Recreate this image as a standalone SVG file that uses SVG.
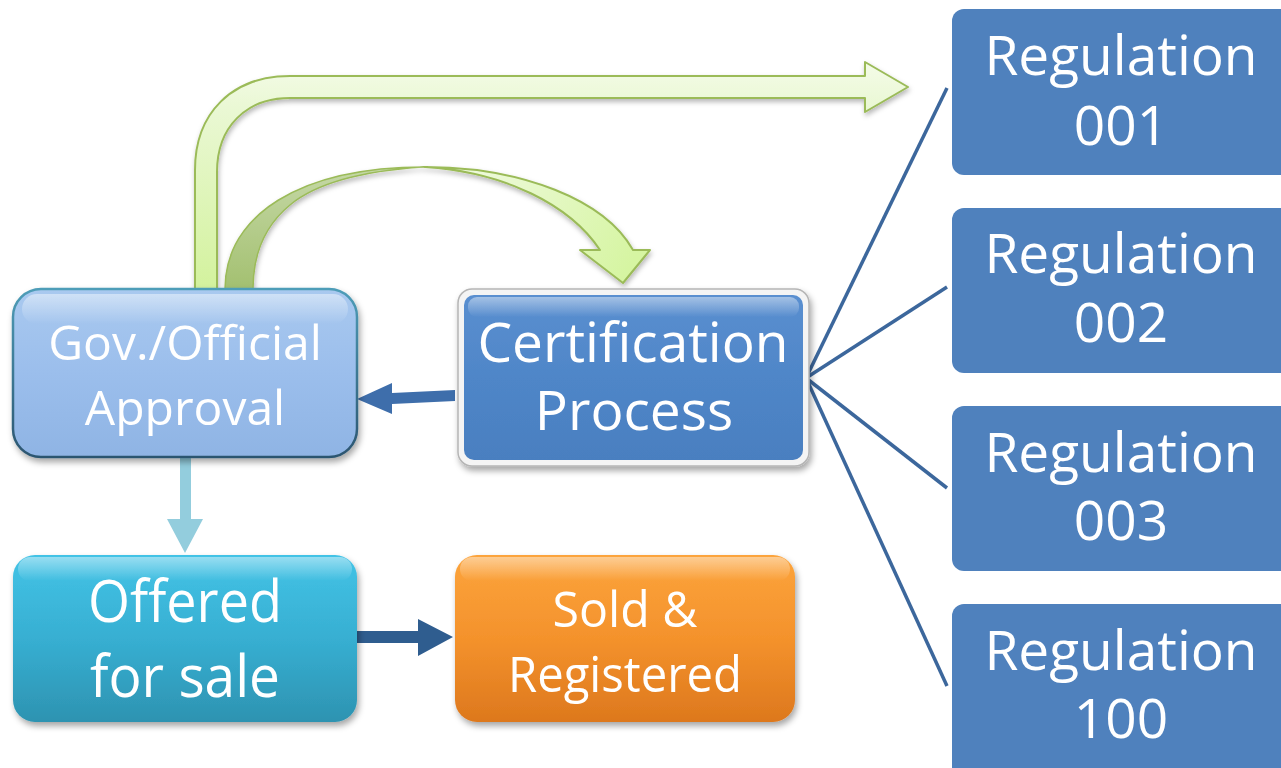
<svg xmlns="http://www.w3.org/2000/svg" width="1281" height="768" viewBox="0 0 1281 768">
  <defs>
    <style>
      .lbl { font-family: "Open Sans", "Liberation Sans", sans-serif; fill: #ffffff; text-anchor: middle; }
      .reg { fill: #4F81BD; }
      .spoke { stroke: #3C679C; stroke-width: 3.5; fill: none; }
    </style>
    <filter id="shadow" x="-10%" y="-10%" width="125%" height="130%">
      <feDropShadow dx="2" dy="4" stdDeviation="3" flood-color="#000" flood-opacity="0.35"/>
    </filter>
    <filter id="softShadow" x="-10%" y="-20%" width="125%" height="150%">
      <feDropShadow dx="1" dy="3" stdDeviation="2.5" flood-color="#000" flood-opacity="0.28"/>
    </filter>
    <linearGradient id="govFill" x1="0" y1="0" x2="0" y2="1">
      <stop offset="0" stop-color="#A9C9EF"/>
      <stop offset="0.5" stop-color="#9BBEEC"/>
      <stop offset="1" stop-color="#8FB4E4"/>
    </linearGradient>
    <linearGradient id="govEdge" x1="0" y1="0" x2="0" y2="1">
      <stop offset="0" stop-color="#4E9DB8"/>
      <stop offset="1" stop-color="#2C5570"/>
    </linearGradient>
    <linearGradient id="certFill" x1="0" y1="0" x2="0" y2="1">
      <stop offset="0" stop-color="#5A8FD0"/>
      <stop offset="0.5" stop-color="#4F86C8"/>
      <stop offset="1" stop-color="#4A7FC0"/>
    </linearGradient>
    <linearGradient id="offerFill" x1="0" y1="0" x2="0" y2="1">
      <stop offset="0" stop-color="#43C3E6"/>
      <stop offset="0.5" stop-color="#37AFD2"/>
      <stop offset="1" stop-color="#2D93B1"/>
    </linearGradient>
    <linearGradient id="soldFill" x1="0" y1="0" x2="0" y2="1">
      <stop offset="0" stop-color="#FCA43C"/>
      <stop offset="0.5" stop-color="#F4922C"/>
      <stop offset="1" stop-color="#DD781D"/>
    </linearGradient>
    <linearGradient id="gloss" x1="0" y1="0" x2="0" y2="1">
      <stop offset="0" stop-color="#ffffff" stop-opacity="0.45"/>
      <stop offset="1" stop-color="#ffffff" stop-opacity="0"/>
    </linearGradient>
    <linearGradient id="bentFill" gradientUnits="userSpaceOnUse" x1="0" y1="62" x2="0" y2="290">
      <stop offset="0" stop-color="#F4FBE8"/>
      <stop offset="0.2" stop-color="#EAF8D4"/>
      <stop offset="1" stop-color="#D3F29D"/>
    </linearGradient>
    <linearGradient id="curveBack" gradientUnits="userSpaceOnUse" x1="0" y1="167" x2="0" y2="290">
      <stop offset="0" stop-color="#C5D8A6"/>
      <stop offset="1" stop-color="#A3C070"/>
    </linearGradient>
    <linearGradient id="curveFront" gradientUnits="userSpaceOnUse" x1="420" y1="167" x2="620" y2="283">
      <stop offset="0" stop-color="#F4FBEA"/>
      <stop offset="1" stop-color="#D6F5A2"/>
    </linearGradient>
  </defs>

  <!-- connectors -->
  <g id="connectors">
    <!-- spokes from certification to each regulation -->
    <line class="spoke" x1="806" y1="378" x2="947" y2="88"/>
    <line class="spoke" x1="806" y1="378" x2="947" y2="287"/>
    <line class="spoke" x1="806" y1="378" x2="947" y2="488"/>
    <line class="spoke" x1="806" y1="378" x2="947" y2="686"/>

    <!-- bent arrow out of the approval box to the regulations -->
    <path d="M195 290 L195 170 C195 113 232 76 290 76 L865 76 L865 62 L908 87 L865 112 L865 98 L290 98 C246 98 217 127 217 172 L217 290 Z"
          fill="url(#bentFill)" stroke="#9BBB59" stroke-width="2" stroke-linejoin="round" filter="url(#softShadow)"/>

    <!-- curved arrow from approval into certification -->
    <g filter="url(#softShadow)">
      <path d="M225 289 C225 215 300 167 425 167 C410 168 330 172 290 205 C262 228 253 258 253 289 Z"
            fill="url(#curveBack)" stroke="#9BBB59" stroke-width="1.5" stroke-linejoin="round"/>
      <path d="M425 167 C522 167 605 200 633 250 L650 250 L623 283 L580 250 L600 250 C570 205 505 172 425 167 Z"
            fill="url(#curveFront)" stroke="#9BBB59" stroke-width="2" stroke-linejoin="round"/>
    </g>

    <!-- certification to approval -->
    <polygon points="455,390 392,393 392,383 357,399 392,414 392,404 455,401" fill="#3E6EAB"/>
    <!-- approval to offered for sale -->
    <polygon points="180,458 191,458 191,519 203,519 185,553 167,519 180,519" fill="#93CDDD"/>
    <!-- offered for sale to sold -->
    <polygon points="357,631 418,631 418,619 453,637 418,656 418,643 357,643" fill="#2F5D8F"/>
  </g>

  <!-- approval -->
  <g id="node-approval" filter="url(#shadow)">
    <rect x="13" y="289" width="344" height="168" rx="28" fill="url(#govFill)" stroke="url(#govEdge)" stroke-width="2.5"/>
    <rect x="22" y="294" width="326" height="30" rx="15" fill="url(#gloss)"/>
    <text class="lbl" x="185" y="360" font-size="48">Gov./Official</text>
    <text class="lbl" x="185" y="425" font-size="48">Approval</text>
  </g>

  <!-- certification -->
  <g id="node-certification" filter="url(#shadow)">
    <rect x="458" y="289" width="351" height="177" rx="14" fill="#F4F4F4" stroke="#B5B5B5" stroke-width="1.5"/>
    <rect x="464" y="295" width="339" height="165" rx="10" fill="url(#certFill)"/>
    <rect x="468" y="297" width="331" height="20" rx="9" fill="url(#gloss)"/>
    <text class="lbl" x="633" y="362" font-size="55">Certification</text>
    <text class="lbl" x="634" y="430" font-size="55">Process</text>
  </g>

  <!-- offered for sale -->
  <g id="node-offered" filter="url(#shadow)">
    <rect x="13" y="555" width="344" height="167" rx="22" fill="url(#offerFill)"/>
    <rect x="18" y="557" width="334" height="24" rx="12" fill="url(#gloss)"/>
    <text class="lbl" x="185" y="622" font-size="58" textLength="194" lengthAdjust="spacingAndGlyphs">Offered</text>
    <text class="lbl" x="185" y="697" font-size="58" textLength="190" lengthAdjust="spacingAndGlyphs">for sale</text>
  </g>

  <!-- sold and registered -->
  <g id="node-sold" filter="url(#shadow)">
    <rect x="455" y="555" width="340" height="167" rx="22" fill="url(#soldFill)"/>
    <rect x="460" y="557" width="330" height="24" rx="12" fill="url(#gloss)"/>
    <text class="lbl" x="625" y="627" font-size="49" textLength="145" lengthAdjust="spacingAndGlyphs">Sold &amp;</text>
    <text class="lbl" x="625" y="692" font-size="49" textLength="234" lengthAdjust="spacingAndGlyphs">Registered</text>
  </g>

  <!-- regulations -->
  <g id="node-reg-001">
    <rect class="reg" x="952" y="9" width="345" height="166" rx="12"/>
    <text class="lbl" x="1121" y="75" font-size="55">Regulation</text>
    <text class="lbl" x="1121" y="145" font-size="55">001</text>
  </g>
  <g id="node-reg-002">
    <rect class="reg" x="952" y="208" width="345" height="165" rx="12"/>
    <text class="lbl" x="1121" y="273" font-size="55">Regulation</text>
    <text class="lbl" x="1121" y="342" font-size="55">002</text>
  </g>
  <g id="node-reg-003">
    <rect class="reg" x="952" y="406" width="345" height="165" rx="12"/>
    <text class="lbl" x="1121" y="472" font-size="55">Regulation</text>
    <text class="lbl" x="1121" y="540" font-size="55">003</text>
  </g>
  <g id="node-reg-100">
    <rect class="reg" x="952" y="604" width="345" height="175" rx="12"/>
    <text class="lbl" x="1121" y="670" font-size="55">Regulation</text>
    <text class="lbl" x="1121" y="738" font-size="55">100</text>
  </g>
</svg>
